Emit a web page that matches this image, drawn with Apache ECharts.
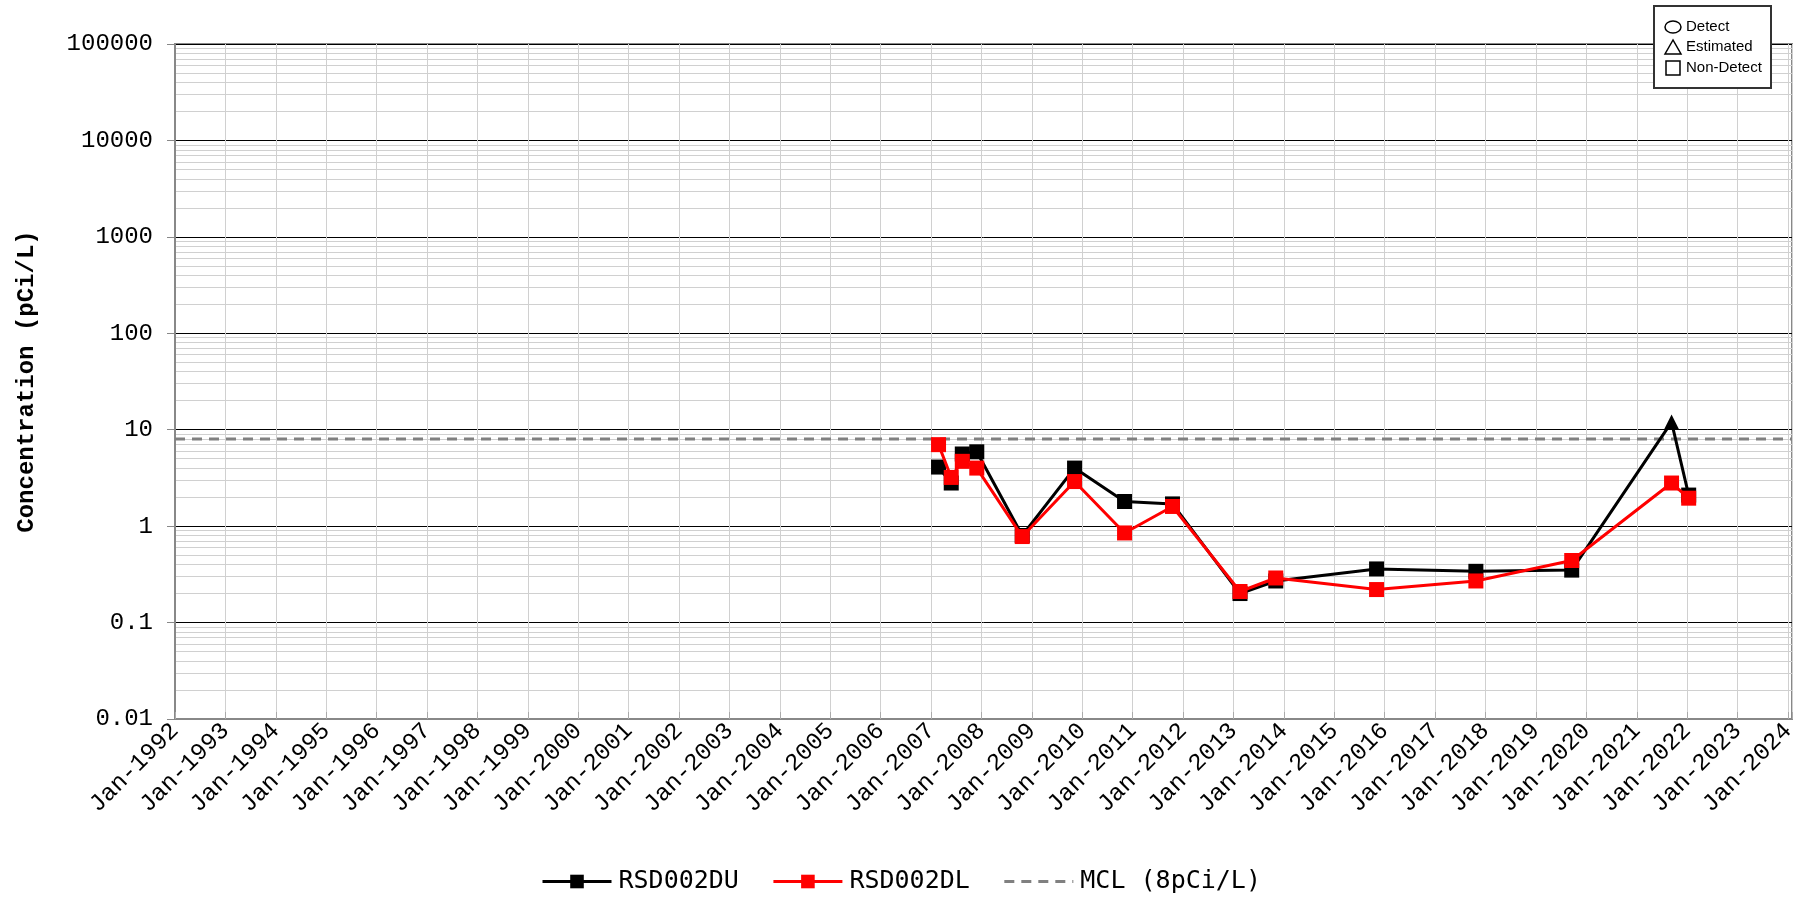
<!DOCTYPE html>
<html>
<head>
<meta charset="utf-8">
<title>RSD002 Concentration</title>
<script src="https://cdn.jsdelivr.net/npm/echarts@6.0.0/dist/echarts.min.js"></script>
<style>
  body { margin: 0; background: #fff; }
  #chart { width: 1812px; height: 899px; }
</style>
</head>
<body>
<div id="chart"></div>
<script>
// sample dates shared by both series
var sampleDates = ['2007-02-24', '2007-05-27', '2007-08-15', '2007-11-28', '2008-10-23',
  '2009-11-06', '2010-11-03', '2011-10-16', '2013-02-17', '2013-11-03',
  '2015-11-03', '2017-10-23', '2019-09-17', '2021-09-10', '2022-01-12'];
var duValues = [4.1, 2.8, 5.6, 5.9, 0.8, 4.0, 1.8, 1.7, 0.2, 0.27, 0.36, 0.34, 0.35, 12, 2.1];
var dlValues = [7.0, 3.2, 4.7, 4.0, 0.78, 2.9, 0.85, 1.6, 0.21, 0.29, 0.22, 0.27, 0.44, 2.8, 1.95];
// N = non-detect, E = estimated, D = detect
var duFlags = ['N', 'N', 'N', 'N', 'N', 'N', 'N', 'N', 'N', 'N', 'N', 'N', 'N', 'E', 'N'];
var dlFlags = ['N', 'N', 'N', 'N', 'N', 'N', 'N', 'N', 'N', 'N', 'N', 'N', 'N', 'N', 'N'];
var mclValue = 8;
var yearMin = 1992;
var yearMax = 2024.08;
var yTickLabels = ['0.01', '0.1', '1', '10', '100', '1000', '10000', '100000'];

var monoFont = 'Liberation Mono';

function decimalYear(s) {
  var p = s.split('-');
  var y = +p[0];
  var start = Date.UTC(y, 0, 1);
  var end = Date.UTC(y + 1, 0, 1);
  var d = Date.UTC(y, +p[1] - 1, +p[2]);
  return y + (d - start) / (end - start);
}

var symbolFor = { N: 'rect', E: 'triangle', D: 'circle' };

function buildSeriesData(values, flags) {
  return values.map(function (v, i) {
    return {
      value: [decimalYear(sampleDates[i]), v],
      symbol: symbolFor[flags[i]]
    };
  });
}

// light minor grid lines at 2..9 of each decade
var minorLines = [];
for (var k = -2; k < 5; k++) {
  for (var m = 2; m <= 9; m++) {
    minorLines.push({ yAxis: m * Math.pow(10, k) });
  }
}

var chart = echarts.init(document.getElementById('chart'));

//------------------ symbol key box (top right) ------------------
var keyFont = '15px "Liberation Sans"';
var keyBox = [
  { type: 'rect', shape: { x: 0, y: 0, width: 117, height: 82 },
    style: { fill: '#fff', stroke: '#333', lineWidth: 2 } },
  { type: 'ellipse', shape: { cx: 19, cy: 21, rx: 8, ry: 6 },
    style: { fill: 'none', stroke: '#000', lineWidth: 1.5 } },
  { type: 'polygon', shape: { points: [[19, 34], [11, 48], [27, 48]] },
    style: { fill: 'none', stroke: '#000', lineWidth: 1.5 } },
  { type: 'rect', shape: { x: 12, y: 55, width: 14, height: 14 },
    style: { fill: 'none', stroke: '#000', lineWidth: 1.5 } },
  { type: 'text', x: 32, y: 21,
    style: { text: 'Detect', font: keyFont, fill: '#000', verticalAlign: 'middle' } },
  { type: 'text', x: 32, y: 41,
    style: { text: 'Estimated', font: keyFont, fill: '#000', verticalAlign: 'middle' } },
  { type: 'text', x: 32, y: 62,
    style: { text: 'Non-Detect', font: keyFont, fill: '#000', verticalAlign: 'middle' } }
];
keyBox.forEach(function (el) { el.z = 100; });

var option = {
  animation: false,
  backgroundColor: '#fff',
  grid: {
    left: 175, right: 20, top: 44, bottom: 180,
    show: true, borderColor: '#888', borderWidth: 2
  },
  legend: {
    data: ['RSD002DU', 'RSD002DL', { name: 'MCL (8pCi/L)', itemStyle: { opacity: 0 } }],
    left: 541, top: 869, padding: 0,
    itemWidth: 69, itemHeight: 17, itemGap: 33,
    lineStyle: { width: 3 },
    textStyle: { fontFamily: 'DejaVu Sans Mono', fontSize: 25, color: '#000', padding: [0, 0, 0, 2] }
  },
  xAxis: {
    type: 'value',
    min: yearMin, max: yearMax, interval: 1,
    axisLine: { lineStyle: { color: '#888', width: 2 } },
    axisTick: { show: true, inside: true, length: 7, lineStyle: { color: '#aaa' } },
    splitLine: { show: true, lineStyle: { color: '#d0d0d0', width: 1 } },
    axisLabel: {
      rotate: 45, margin: 8,
      fontFamily: monoFont, fontSize: 24, color: '#000',
      showMaxLabel: true,
      formatter: function (v) {
        if (Math.abs(v - Math.round(v)) > 0.001) return '';
        return 'Jan-' + Math.round(v);
      }
    }
  },
  yAxis: {
    type: 'log', logBase: 10,
    min: 0.01, max: 100000,
    name: 'Concentration (pCi/L)',
    nameLocation: 'middle', nameGap: 136,
    nameTextStyle: { fontFamily: monoFont, fontSize: 24, fontWeight: 'bold', color: '#000' },
    axisLine: { show: true, lineStyle: { color: '#888', width: 2 } },
    axisTick: { show: true, length: 8, lineStyle: { color: '#888' } },
    splitLine: { show: true, lineStyle: { color: '#000', width: 1 } },
    axisLabel: {
      margin: 22,
      fontFamily: monoFont, fontSize: 24, color: '#000',
      formatter: function (v) {
        return yTickLabels[Math.round(Math.log10(v)) + 2];
      }
    }
  },
  series: [
    {
      name: 'minor',
      type: 'line',
      data: [],
      silent: true,
      z: 0,
      markLine: {
        silent: true,
        z: 0,
        symbol: 'none',
        label: { show: false },
        lineStyle: { color: '#d0d0d0', width: 1, type: 'solid' },
        data: minorLines
      }
    },
    {
      name: 'MCL (8pCi/L)',
      type: 'line',
      data: [[yearMin, mclValue], [yearMax, mclValue]],
      symbol: 'none',
      z: 2,
      lineStyle: { color: '#808080', width: 3, type: [10, 7] },
      itemStyle: { color: '#808080' }
    },
    {
      name: 'RSD002DU',
      type: 'line',
      data: buildSeriesData(duValues, duFlags),
      symbol: 'rect',
      symbolSize: 15,
      z: 3,
      lineStyle: { color: '#000', width: 3 },
      itemStyle: { color: '#000' }
    },
    {
      name: 'RSD002DL',
      type: 'line',
      data: buildSeriesData(dlValues, dlFlags),
      symbol: 'rect',
      symbolSize: 15,
      z: 4,
      lineStyle: { color: '#f00', width: 3 },
      itemStyle: { color: '#f00' }
    }
  ],
  graphic: [
    { type: 'group', left: 1653, top: 5, z: 100, children: keyBox }
  ]
};

chart.setOption(option);
</script>
</body>
</html>
